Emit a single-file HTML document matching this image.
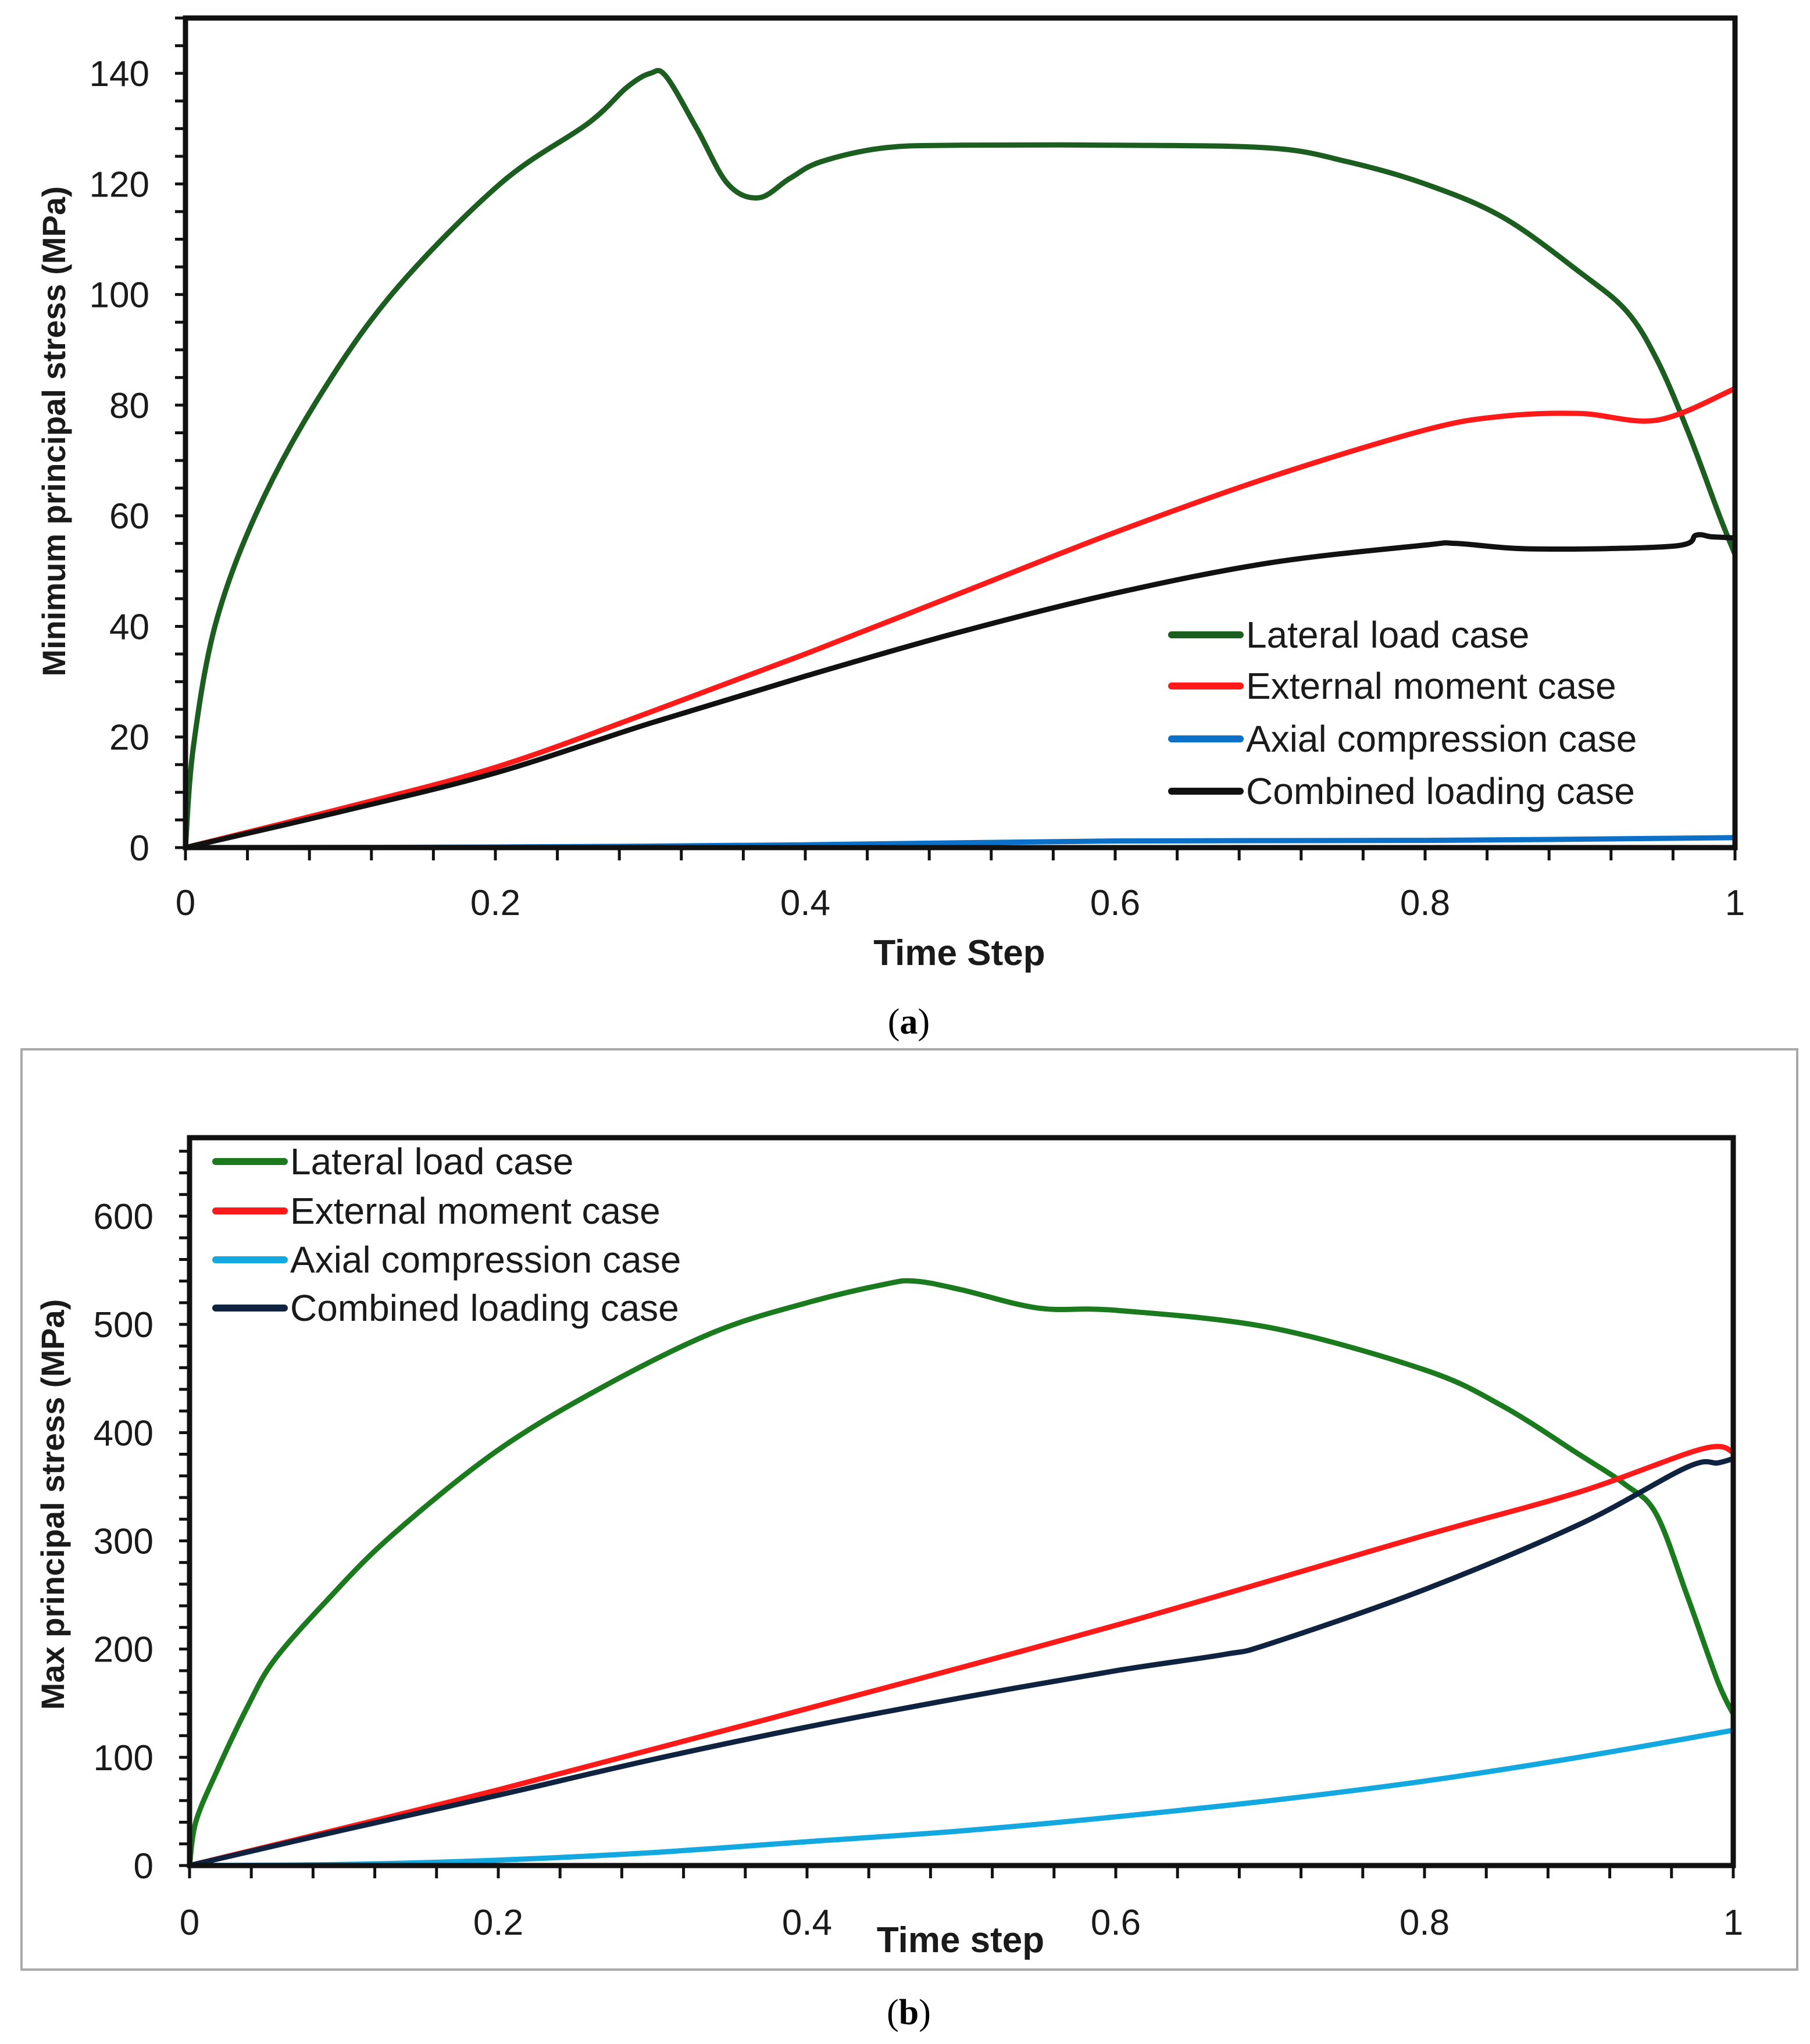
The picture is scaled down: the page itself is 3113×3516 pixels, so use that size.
<!DOCTYPE html>
<html><head><meta charset="utf-8"><style>
html,body{margin:0;padding:0;background:#fff;}
svg{display:block;}
text{font-family:"Liberation Sans Narrow","Liberation Sans",sans-serif;}
.t{font-size:62px;fill:#1a1a1a;}
.ttl{font-family:"Liberation Sans",sans-serif;font-weight:bold;fill:#1a1a1a;}
</style></head><body>
<svg id="svg" width="3113" height="3516" viewBox="0 0 3113 3516" xmlns="http://www.w3.org/2000/svg">
<rect x="0" y="0" width="3113" height="3516" fill="#fff"/>
<rect x="37" y="1805" width="3054" height="1583" fill="none" stroke="#a9a9a9" stroke-width="4"/>
<text x="1563" y="1778" text-anchor="middle" style="font-family:'Liberation Serif',serif;font-size:62px">(<tspan font-weight="bold">a</tspan>)</text>
<text x="1563" y="3482" text-anchor="middle" style="font-family:'Liberation Serif',serif;font-size:62px">(<tspan font-weight="bold">b</tspan>)</text>
<g id="ga"></g>
<g id="gb"></g>
</svg>
<script>
// ---- Chart A data ----
const aLateralX = [0,0.005,0.019,0.045,0.083,0.133,0.203,0.26,0.285,0.3,0.31,0.33,0.35,0.37,0.39,0.41,0.45,0.5,0.6,0.7,0.75,0.8,0.85,0.9,0.93,0.95,0.97,0.99,1];
const aLateralY = [0,18,40,60,80,100,120,131,137.5,140,139.5,130,120,117.5,121,124,126.5,127,127,126.5,124,120,114,104,97,88,75,60,53];
const aMomentX = [0,0.1,0.2,0.3,0.4,0.5,0.6,0.7,0.8,0.85,0.9,0.95,1];
const aMomentY = [0,7,14.5,24.5,35,46,57,67,75.5,78,78.5,77.3,83];
const aAxialX = [0,0.2,0.4,0.6,0.8,1];
const aAxialY = [0,0.1,0.5,1.2,1.3,1.8];
const aCombX = [0,0.1,0.2,0.3,0.4,0.5,0.6,0.7,0.8,0.82,0.87,0.96,0.975,0.985,1];
const aCombY = [0,6.5,13.5,22.5,31,39,46,51.5,54.7,55,54,54.5,56.5,56.2,56];
const aYTicks = [0,20,40,60,80,100,120,140];
const aXTicks = [0,0.2,0.4,0.6,0.8,1];
const aXTickLabels = ["0","0.2","0.4","0.6","0.8","1"];
// ---- Chart B data ----
const bLateralX = [0,0.004,0.017,0.038,0.055,0.089,0.131,0.2,0.27,0.34,0.4,0.45,0.47,0.5,0.55,0.6,0.7,0.8,0.85,0.9,0.93,0.95,0.97,0.99,1];
const bLateralY = [0,40,85,148,190,245,305,384,444,493,520,537,540,532,515,513,497,458,425,380,352,325,250,170,140];
const bMomentX = [0,0.2,0.4,0.6,0.8,0.9,0.98,1];
const bMomentY = [0,70,145,222,305,345,385,382];
const bAxialX = [0,0.1,0.2,0.3,0.4,0.5,0.6,0.7,0.8,0.9,1];
const bAxialY = [0,1,5,12,22,32,45,60,78,100,125];
const bCombX = [0,0.1,0.2,0.3,0.4,0.5,0.6,0.67,0.7,0.8,0.9,0.97,0.99,1];
const bCombY = [0,33,65,98,128,155,180,195,205,255,315,368,372,376];
const bYTicks = [0,100,200,300,400,500,600];
const bXTicks = [0,0.2,0.4,0.6,0.8,1];
const bXTickLabels = ["0","0.2","0.4","0.6","0.8","1"];
const legendLabels = ["Lateral load case","External moment case","Axial compression case","Combined loading case"];

const NS="http://www.w3.org/2000/svg";
function mk(tag,parent,attrs){const e=document.createElementNS(NS,tag);for(const k in attrs)e.setAttribute(k,attrs[k]);parent.appendChild(e);return e;}
function smooth(pts){let d="M"+pts[0][0]+","+pts[0][1];for(let i=0;i<pts.length-1;i++){const p0=pts[Math.max(0,i-1)],p1=pts[i],p2=pts[i+1],p3=pts[Math.min(pts.length-1,i+2)];const c1=[p1[0]+(p2[0]-p0[0])/6,p1[1]+(p2[1]-p0[1])/6],c2=[p2[0]-(p3[0]-p1[0])/6,p2[1]-(p3[1]-p1[1])/6];d+=" C"+c1[0].toFixed(1)+","+c1[1].toFixed(1)+" "+c2[0].toFixed(1)+","+c2[1].toFixed(1)+" "+p2[0].toFixed(1)+","+p2[1].toFixed(1);}return d;}

function chart(g,cfg){
  const sx=v=>cfg.L+(cfg.R-cfg.L)*v, sy=v=>cfg.B-(cfg.B-cfg.T)*v/cfg.ymax;
  for(let v=0;v<=cfg.ymax+1e-9;v+=cfg.yMinor){
    const t=mk('line',g,{x1:cfg.L-18,x2:cfg.L,y1:sy(v),y2:sy(v),stroke:'#111','stroke-width':5});
    
    
  }
  cfg.yTicks.forEach(v=>{
    const t=mk('text',g,{x:cfg.L-62,y:sy(v)+22,'text-anchor':'end',class:'t'});t.textContent=v;
    
    
  });
  for(let v=0;v<=1.0001;v+=0.04){
    const t=mk('line',g,{x1:sx(v),x2:sx(v),y1:cfg.B,y2:cfg.B+22,stroke:'#111','stroke-width':5});
    
    
  }
  cfg.xTicks.forEach((v,i)=>{
    const t=mk('text',g,{x:sx(v),y:cfg.xLabY,'text-anchor':'middle',class:'t'});t.textContent=cfg.xLabels[i];
    
    
  });
  cfg.series.forEach(s=>{
    const pts=s.x.map((xv,i)=>[sx(xv),sy(s.y[i])]);
    const p=mk('path',g,{d:smooth(pts),fill:'none',stroke:s.c,'stroke-width':9,'stroke-linejoin':'round','stroke-linecap':'round'});
    
    
  });
  const fr=mk('rect',g,{x:cfg.L,y:cfg.T,width:cfg.R-cfg.L,height:cfg.B-cfg.T,fill:'none',stroke:'#111','stroke-width':9});
  
  
  cfg.series.forEach((s,i)=>{
    const y=cfg.legY[i];
    const l=mk('line',g,{x1:cfg.legX,x2:cfg.legX+118,y1:y,y2:y,stroke:s.c,'stroke-width':12,'stroke-linecap':'round'});
    
    
    const t=mk('text',g,{x:cfg.legX+128,y:y+22,class:'t',style:'font-size:64px'});t.textContent=legendLabels[i];
    
    
  });
  const xt=mk('text',g,{x:cfg.xTitleX,y:cfg.xTitleY,'text-anchor':'middle',class:'ttl',style:'font-size:62px'});xt.textContent=cfg.xTitle;
  
  
  const yt=mk('text',g,{x:0,y:0,'text-anchor':'middle',class:'ttl',style:'font-size:56px',transform:'translate('+cfg.yTitleX+','+cfg.yTitleY+') rotate(-90)'});yt.textContent=cfg.yTitle;
  
  
}

chart(document.getElementById('ga'),{L:319,R:2984,T:31,B:1458,ymax:150,yMinor:5,yTicks:aYTicks,xTicks:aXTicks,xLabels:aXTickLabels,xLabY:1574,
  series:[{x:aLateralX,y:aLateralY,c:'#1b5e20',name:'lateral-load-line'},{x:aMomentX,y:aMomentY,c:'#ff1a1a',name:'external-moment-line'},{x:aAxialX,y:aAxialY,c:'#0a70c8',name:'axial-compression-line'},{x:aCombX,y:aCombY,c:'#111',name:'combined-loading-line'}],
  legX:2015,legY:[1092,1180,1271,1361],xTitle:'Time Step',xTitleX:1650,xTitleY:1660,yTitle:'Minimum principal stress (MPa)',yTitleX:112,yTitleY:742});
chart(document.getElementById('gb'),{L:326,R:2981,T:1957,B:3209,ymax:672.5,yMinor:20,yTicks:bYTicks,xTicks:bXTicks,xLabels:bXTickLabels,xLabY:3328,
  series:[{x:bLateralX,y:bLateralY,c:'#1b7a1e',name:'lateral-load-line'},{x:bMomentX,y:bMomentY,c:'#ff1a1a',name:'external-moment-line'},{x:bAxialX,y:bAxialY,c:'#13a8e0',name:'axial-compression-line'},{x:bCombX,y:bCombY,c:'#0f2340',name:'combined-loading-line'}],
  legX:371,legY:[1998,2083,2167,2250],xTitle:'Time step',xTitleX:1652,xTitleY:3358,yTitle:'Max principal stress (MPa)',yTitleX:110,yTitleY:2588});
</script>
</body></html>
